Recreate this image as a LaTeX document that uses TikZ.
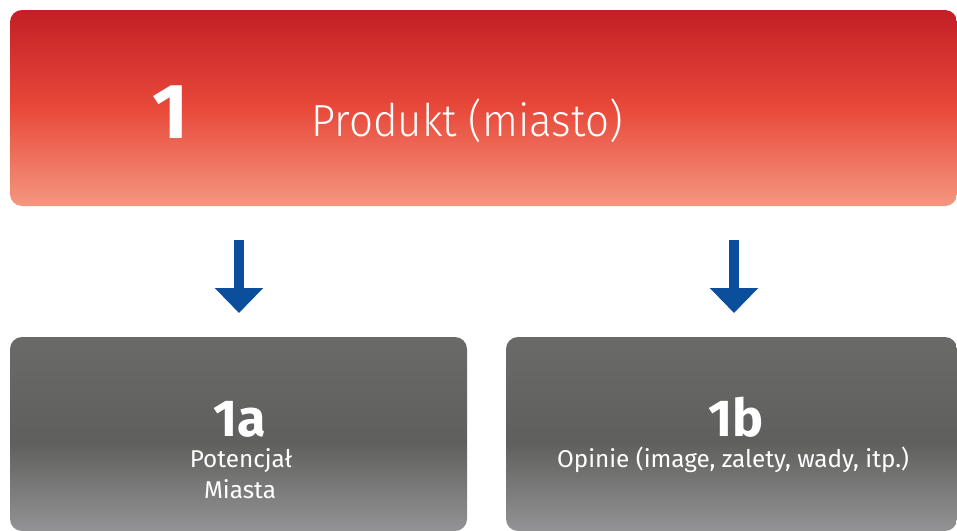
\documentclass[tikz,border=0pt]{standalone}
\usepackage{fontspec}
\setmainfont{Fira Sans}
\newfontfamily\lightfont[FakeStretch=0.935]{Fira Sans Light}
\usetikzlibrary{arrows.meta}
\definecolor{redtop}{HTML}{C31F26}
\definecolor{redmid}{HTML}{E8493A}
\definecolor{redbot}{HTML}{F5977F}
\definecolor{graytop}{HTML}{6A6A68}
\definecolor{graymid}{HTML}{5F5F5D}
\definecolor{graybot}{HTML}{939395}
\definecolor{arrowblue}{HTML}{0B4F9C}
\pgfdeclareverticalshading{redshade}{100bp}{color(0bp)=(redbot); color(25bp)=(redbot); color(50bp)=(redmid); color(75bp)=(redtop); color(100bp)=(redtop)}
\pgfdeclareverticalshading{grayshade}{100bp}{color(0bp)=(graybot); color(25bp)=(graybot); color(48bp)=(graymid); color(75bp)=(graytop); color(100bp)=(graytop)}
\tikzset{
  box/.style={rounded corners=12pt, draw=none, inner sep=0pt},
  redbox/.style={box, shading=redshade},
  graybox/.style={box, shading=grayshade},
  bignum/.style={text=white, font=\bfseries\fontsize{78}{80}\selectfont, anchor=base, inner sep=0pt},
  midnum/.style={text=white, font=\bfseries\fontsize{52}{54}\selectfont, anchor=base, inner sep=0pt},
  title/.style={text=white, font=\lightfont\fontsize{45}{48}\selectfont, anchor=base, inner sep=0pt},
  label/.style={text=white, font=\fontsize{24.3}{31}\selectfont, anchor=base, inner sep=0pt},
  bluearrow/.style={draw=arrowblue, line width=10pt, -{Triangle[width=47pt,length=25pt]}}
}
\begin{document}
\begin{tikzpicture}[x=1pt,y=-1pt]
\useasboundingbox (0,0) rectangle (957,530);
\clip (0,0) rectangle (957,530);
\path[redbox] (10,10) rectangle (957,206);
\path[graybox] (10,337) rectangle (467,531);
\path[graybox] (506,337) rectangle (957,531);
\node[bignum] (n1) at (171,138) {1};
\node[title] (t1) at (467,136) {Produkt (miasto)};
\node[midnum] (n1a) at (240,436) {1a};
\node[label] (l1a) at (241,467) {Potencjał};
\node[label] (l1a2) at (240,498) {Miasta};
\node[midnum] (n1b) at (736,436) {1b};
\node[label] (l1b) at (733,467) {Opinie (image, zalety, wady, itp.)};
\coordinate (a1s) at (239,240);
\coordinate (a1e) at (239,313);
\coordinate (a2s) at (734,240);
\coordinate (a2e) at (734,313);
\draw[bluearrow] (a1s) -- (a1e);
\draw[bluearrow] (a2s) -- (a2e);
\end{tikzpicture}
\end{document}
